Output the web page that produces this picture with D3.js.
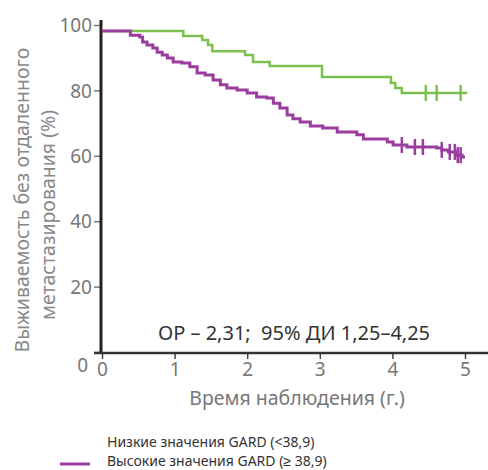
<!DOCTYPE html>
<html>
<head>
<meta charset="utf-8">
<script src="https://cdn.jsdelivr.net/npm/d3@7"></script>
<style>
  body { margin: 0; background: #fff; }
  svg text { font-family: "Noto Sans", sans-serif; }
</style>
</head>
<body>
<div id="chart"></div>
<script>
// Kaplan-Meier steps (years, %)
var lowTimes = [0, 1.12, 1.38, 1.46, 1.52, 1.97, 2.08, 2.31, 3.03, 3.98, 4.04, 4.13, 5.03];
var lowSurv = [98.2, 96.6, 95.4, 93.9, 92.0, 90.8, 88.7, 87.5, 84.1, 82.3, 80.7, 79.2, 79.2];
var lowCensor = [4.46, 4.61, 4.94];

var highTimes = [0, 0.39, 0.52, 0.56, 0.62, 0.70, 0.76, 0.83, 0.90, 0.98, 1.10, 1.21, 1.31, 1.42, 1.53, 1.63, 1.72, 1.86, 2.00, 2.13, 2.27, 2.36, 2.45, 2.55, 2.63, 2.73, 2.87, 3.04, 3.24, 3.51, 3.60, 3.93, 4.01, 4.20, 4.61, 4.68, 4.77, 4.89, 4.96, 5.0];
var highSurv = [98.2, 96.9, 96.3, 94.8, 93.9, 93.0, 91.7, 90.8, 89.9, 88.7, 88.4, 87.2, 85.3, 84.7, 83.2, 81.7, 80.7, 80.1, 79.2, 78.0, 77.7, 76.1, 74.6, 72.5, 71.3, 70.3, 69.1, 68.5, 67.3, 66.4, 65.1, 64.2, 63.3, 62.7, 62.4, 61.8, 61.2, 60.2, 59.6, 59.6];
var highCensor = [4.13, 4.31, 4.42, 4.68, 4.79, 4.86, 4.90, 4.94];

var xTicks = [0, 1, 2, 3, 4, 5];
var yTicks = [0, 20, 40, 60, 80, 100];
var legendLabels = ["Низкие значения GARD (<38,9)", "Высокие значения GARD (≥ 38,9)"];

var green = "#7cc04f", purple = "#9a3d9e";

var svg = d3.select("#chart").append("svg")
  .attr("width", 488).attr("height", 470);

var x = d3.scaleLinear().domain([0, 5]).range([102, 465]);
var y = d3.scaleLinear().domain([0, 100]).range([352, 25]);

// y axis
var yAxis = svg.append("g").attr("transform", "translate(101,0)")
  .call(d3.axisLeft(y).tickValues(yTicks).tickSize(7).tickPadding(6));
yAxis.select(".domain").remove();
yAxis.selectAll(".tick line").attr("stroke", "#777").attr("stroke-width", 1.5);
yAxis.selectAll(".tick text").attr("fill", "#777").style("font-size", "19px")
  .attr("dy", function(d) { return d == 0 ? "1.0em" : "0.35em"; })
  .attr("x", function(d) { return d == 0 ? -13 : -9; });

// x axis
var xAxis = svg.append("g").attr("transform", "translate(0,353)")
  .call(d3.axisBottom(x).tickValues(xTicks).tickFormat(d3.format("d")).tickSize(6).tickPadding(4));
xAxis.select(".domain").remove();
xAxis.selectAll(".tick line").attr("stroke", "#444").attr("stroke-width", 1.5);
xAxis.selectAll(".tick text").attr("fill", "#777").style("font-size", "19px");

svg.append("line").attr("x1", 101).attr("x2", 101).attr("y1", 20).attr("y2", 354)
  .attr("stroke", "#222").attr("stroke-width", 3);
svg.append("line").attr("x1", 94).attr("x2", 488).attr("y1", 353).attr("y2", 353)
  .attr("stroke", "#333").attr("stroke-width", 2.5);

// curves
var line = d3.line().curve(d3.curveStepAfter)
  .x(function(d) { return x(d[0]); }).y(function(d) { return y(d[1]); });

function survAt(times, surv, t) {
  var i = d3.bisectRight(times, t);
  return surv[Math.max(0, i - 1)];
}

function drawCurve(times, surv, censor, color, w) {
  var pts = times.map(function(t, i) { return [t, surv[i]]; });
  svg.append("path").datum(pts).attr("d", line)
    .attr("fill", "none").attr("stroke", color).attr("stroke-width", w);
  svg.selectAll(null).data(censor).enter().append("line")
    .attr("x1", function(d) { return x(d); }).attr("x2", function(d) { return x(d); })
    .attr("y1", function(d) { return y(survAt(times, surv, d)) - 8; })
    .attr("y2", function(d) { return y(survAt(times, surv, d)) + 8; })
    .attr("stroke", color).attr("stroke-width", 2.5);
}
drawCurve(lowTimes, lowSurv, lowCensor, green, 2.5);
drawCurve(highTimes, highSurv, highCensor, purple, 3);

// titles
svg.append("text").attr("x", 297).attr("y", 405).attr("text-anchor", "middle")
  .attr("fill", "#777").style("font-size", "19.5px").text("Время наблюдения (г.)");

svg.append("text").attr("transform", "translate(29,200) rotate(-90)")
  .attr("text-anchor", "middle").attr("fill", "#888").style("font-size", "19.5px")
  .text("Выживаемость без отдаленного");
svg.append("text").attr("transform", "translate(55,215) rotate(-90)")
  .attr("text-anchor", "middle").attr("fill", "#888").style("font-size", "19.5px")
  .text("метастазирования (%)");

svg.append("text").attr("x", 294).attr("y", 340).attr("text-anchor", "middle")
  .attr("fill", "#333").style("font-size", "20px").attr("xml:space", "preserve")
  .text("ОР – 2,31;  95% ДИ 1,25–4,25");

// legend (only the second entry has a line sample)
svg.selectAll(".leg").data(legendLabels).enter().append("text")
  .attr("x", 107).attr("y", function(d, i) { return 447 + i * 19; })
  .attr("fill", "#333").style("font-size", "14px").text(function(d) { return d; });
svg.append("line").attr("x1", 60).attr("x2", 90).attr("y1", 464).attr("y2", 464)
  .attr("stroke", purple).attr("stroke-width", 3);
</script>
</body>
</html>
